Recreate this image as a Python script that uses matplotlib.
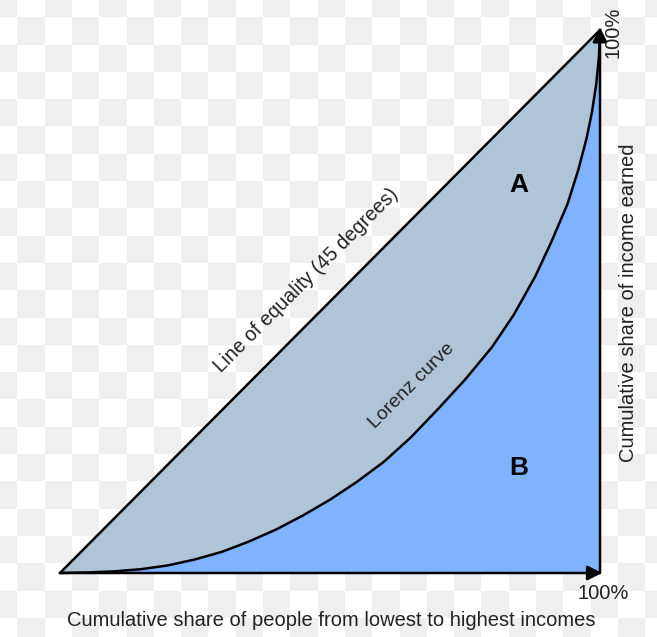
import matplotlib.pyplot as plt
import numpy as np

# Lorenz curve (percent)
pop_share = [0, 5, 10, 15, 20, 25, 30, 35, 40, 45, 50, 55, 60, 65, 70, 75, 80,
             84, 88, 91, 94, 96, 97.5, 98.5, 99.3, 99.8, 100]
income_share = [0, 0.1, 0.3, 0.7, 1.4, 2.5, 3.9, 5.8, 8.0, 10.6, 13.5, 16.8, 20.5, 25.0, 30.2, 35.6, 41.6,
                47.5, 54.6, 61.0, 68.0, 74.3, 80.0, 84.8, 90.0, 95.0, 100]
equality = [0, 100]

axis_label_x = "Cumulative share of people from lowest to highest incomes"
axis_label_y = "Cumulative share of income earned"
end_label = "100%"

color_a = "#b0c4d7"
color_b = "#80b3ff"
text_color = "#222222"

W, H = 657, 637
fig = plt.figure(figsize=(W / 100, H / 100), dpi=100)

# checkerboard background (transparency pattern of the screenshot)
bg = fig.add_axes([0, 0, 1, 1])
cell = 27.3
off = -10
nx = int((W - off) / cell) + 2
ny = int((H - off) / cell) + 2
board = (np.add.outer(np.arange(ny), np.arange(nx)) % 2 == 0).astype(float)
bg.imshow(board, cmap=plt.matplotlib.colors.ListedColormap(["#ffffff", "#efefef"]),
          extent=[off, off + nx * cell, off + ny * cell, off], interpolation="nearest")
bg.set_xlim(0, W)
bg.set_ylim(H, 0)
bg.axis("off")

# main axes: data 0..100 maps onto the triangle
ax = fig.add_axes([60 / W, 64 / H, 540 / W, 543 / H])
ax.set_xlim(0, 100)
ax.set_ylim(0, 100)
ax.axis("off")
ax.patch.set_alpha(0)

ax.fill_between(pop_share, income_share, pop_share, color=color_a, lw=0)
ax.fill_between(pop_share, 0, income_share, color=color_b, lw=0)
ax.plot(equality, equality, color="black", lw=1.8, solid_capstyle="round", clip_on=False)
ax.plot(pop_share, income_share, color="black", lw=1.8, solid_joinstyle="round", clip_on=False)

arrow = dict(arrowstyle="-|>", color="black", lw=1.8, mutation_scale=22, shrinkA=0, shrinkB=0)
ax.annotate("", xy=(100, 100.5), xytext=(100, 0), arrowprops=arrow, annotation_clip=False)
ax.annotate("", xy=(100.4, 0), xytext=(0, 0), arrowprops=arrow, annotation_clip=False)

font = dict(family=["Liberation Sans", "DejaVu Sans"], color=text_color)
fs = 14.5
ax.text(102.4, 99.6, end_label, rotation=90, ha="center", va="center", fontsize=fs, clip_on=False, **font)
ax.text(100.6, -3.7, end_label, ha="center", va="center", fontsize=fs, clip_on=False, **font)
ax.text(50.2, -8.8, axis_label_x, ha="center", va="center", fontsize=fs, clip_on=False, **font)
ax.text(105.3, 49.7, axis_label_y, rotation=90, ha="center", va="center", fontsize=fs, clip_on=False, **font)
ax.text(45.6, 54.0, "Line of equality (45 degrees)", rotation=45, rotation_mode="anchor",
        ha="center", va="center", fontsize=14.2, **font)
ax.text(65.2, 34.4, "Lorenz curve", rotation=45, rotation_mode="anchor",
        ha="center", va="center", fontsize=14, **font)
ax.text(85, 71.5, "A", ha="center", va="center", fontsize=19, fontweight="bold",
        family=["Liberation Sans", "DejaVu Sans"], color="black")
ax.text(85, 19.3, "B", ha="center", va="center", fontsize=19, fontweight="bold",
        family=["Liberation Sans", "DejaVu Sans"], color="black")

fig.savefig("out.png", dpi=100)
